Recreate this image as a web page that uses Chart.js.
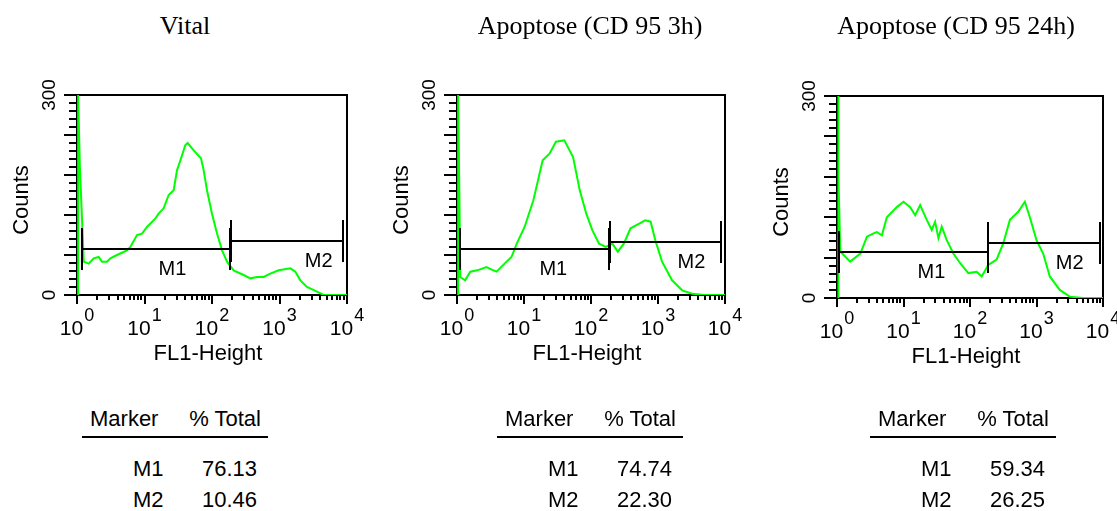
<!DOCTYPE html>
<html>
<head>
<meta charset="utf-8">
<script src="https://cdn.jsdelivr.net/npm/chart.js@4.4.0/dist/chart.umd.min.js"></script>
<style>
  body { margin: 0; background: #fff; }
  #wrap { position: relative; width: 1117px; height: 511px; overflow: hidden; }
  #wrap canvas { position: absolute; left: 0; top: 0; }
  .title { position: absolute; font: 26px 'Liberation Serif', 'Times New Roman', serif; line-height: 26px; white-space: nowrap; transform: translateX(-50%); color: #000; }
  .tbl { position: absolute; font: 22px 'Liberation Sans', Arial, sans-serif; line-height: 22px; white-space: nowrap; color: #000; }
  .rule { position: absolute; height: 2px; background: #000; }
</style>
</head>
<body>
<div id="wrap"></div>
<script>
// histogram data, FL1 channel (log scale) vs counts
const fl1Vital = [1.04, 1.04, 1.1, 1.26, 1.49, 1.77, 2.09, 2.35, 2.78, 3.12, 3.91, 5.5, 6.17, 7.74, 9.18, 10.9, 14.5, 16.2, 19.2, 22.8, 27, 30.3, 34, 40.3, 43.6, 53.5, 68.7, 75.3, 84.3, 100, 119, 141, 167, 209, 294, 370, 464, 583, 731, 972, 1445, 1718, 2036, 2553, 3594, 4511, 10000];
const countsVital = [0, 300, 195, 50, 47, 55, 57, 50, 50, 55, 60, 67, 72, 90, 92, 102, 115, 122, 130, 150, 157, 187, 202, 225, 228, 217, 205, 187, 157, 122, 92, 67, 50, 37, 30, 25, 27, 27, 32, 37, 40, 35, 22, 12, 5, 0, 0];

const fl1Apo3h = [1.04, 1.04, 1.08, 1.12, 1.32, 1.58, 2.0, 2.75, 3.3, 3.9, 5.5, 6.5, 7.8, 10.2, 13.8, 19, 24, 30, 40, 54, 68, 85, 105, 132, 166, 209, 251, 309, 389, 525, 646, 776, 912, 1148, 1622, 2291, 3236, 5012, 10000];
const countsApo3h = [0, 300, 165, 27, 22, 35, 37, 42, 38, 35, 50, 57, 77, 102, 142, 202, 212, 230, 232, 207, 157, 122, 97, 77, 72, 77, 65, 77, 100, 107, 112, 110, 82, 50, 22, 7, 2, 0, 0];

const fl1Apo24h = [1.04, 1.04, 1.06, 1.12, 1.58, 2.24, 2.82, 3.55, 3.98, 4.73, 5.62, 7.94, 10, 12.6, 15, 17.8, 22.4, 26.6, 29.9, 33.5, 37.6, 44.7, 56.2, 70.8, 94.4, 126, 150, 188, 251, 316, 398, 531, 668, 794, 1000, 1259, 1585, 2239, 3162, 5012, 10000];
const countsApo24h = [0, 300, 180, 69, 54, 66, 91, 96, 98, 93, 120, 135, 143, 135, 123, 138, 116, 101, 113, 89, 106, 86, 66, 52, 37, 39, 32, 49, 57, 81, 116, 128, 143, 120, 86, 66, 32, 12, 2, 0, 0];

const panelTitles = ['Vital', 'Apoptose (CD 95 3h)', 'Apoptose (CD 95 24h)'];

// gates: FL1 range and drawing level (counts)
const m1From = [1.19, 1.12, 1.08];
const m1To = [187, 188, 188];
const m1Level = [68.5, 69, 69];
const m2From = [193, 194, 188];
const m2To = [8750, 8810, 8900];
const m2Level = [81, 79, 81];

const m1Total = [76.13, 74.74, 59.34];
const m2Total = [10.46, 22.30, 26.25];

const yTickLabels = [0, 300];
const xDecades = [0, 1, 2, 3, 4];

const W = 1117, H = 511;
const SANS = '"Liberation Sans", Arial, sans-serif';

const panels = [
  { fl1: fl1Vital, counts: countsVital, box: [77, 95, 347, 295], titleX: 185, tableLeft: 82, m1Label: 26, m2Label: 3800 },
  { fl1: fl1Apo3h, counts: countsApo3h, box: [457, 95, 725, 295], titleX: 590, tableLeft: 497, m1Label: 27.4, m2Label: 3160 },
  { fl1: fl1Apo24h, counts: countsApo24h, box: [837, 96, 1103, 298], titleX: 956, tableLeft: 870, m1Label: 26.3, m2Label: 3160 }
];

// axes, frame, gates drawn from the chart's own scales
const panelDecor = {
  id: 'panelDecor',
  beforeDatasetsDraw(chart) {
    const { ctx, chartArea: a } = chart;
    ctx.save();
    ctx.strokeStyle = '#000';
    ctx.lineWidth = 2;
    ctx.strokeRect(a.left, a.top, a.right - a.left, a.bottom - a.top);
    ctx.restore();
  },
  afterDatasetsDraw(chart, args, o) {
    const { ctx, chartArea: a, scales: { x, y } } = chart;
    ctx.save();
    ctx.strokeStyle = '#000';
    ctx.fillStyle = '#000';
    ctx.lineWidth = 2;

    // y ticks
    for (let v = 0; v <= 300; v += 12) {
      const py = Math.round(y.getPixelForValue(v));
      const len = v % 60 === 0 ? 13 : 8;
      ctx.beginPath(); ctx.moveTo(a.left - len, py); ctx.lineTo(a.left, py); ctx.stroke();
    }
    // x ticks
    for (let d = 0; d < 4; d++) {
      for (let m = 1; m <= 9; m++) {
        const px = Math.round(x.getPixelForValue(m * Math.pow(10, d)));
        const len = m === 1 ? 9 : 5;
        ctx.beginPath(); ctx.moveTo(px, a.bottom); ctx.lineTo(px, a.bottom + len); ctx.stroke();
      }
    }
    const pEnd = Math.round(x.getPixelForValue(10000));
    ctx.beginPath(); ctx.moveTo(pEnd, a.bottom); ctx.lineTo(pEnd, a.bottom + 9); ctx.stroke();

    // y tick labels
    ctx.font = '19px ' + SANS;
    ctx.textAlign = 'center';
    ctx.textBaseline = 'alphabetic';
    yTickLabels.forEach(v => {
      ctx.save();
      ctx.translate(a.left - 22, y.getPixelForValue(v));
      ctx.rotate(-Math.PI / 2);
      ctx.fillText(String(v), 0, 0);
      ctx.restore();
    });
    // y title
    ctx.font = '22px ' + SANS;
    ctx.save();
    ctx.translate(a.left - 49, (a.top + a.bottom) / 2 + 5);
    ctx.rotate(-Math.PI / 2);
    ctx.fillText('Counts', 0, 0);
    ctx.restore();

    // x tick labels 10^n
    ctx.textAlign = 'left';
    xDecades.forEach(d => {
      const px = x.getPixelForValue(Math.pow(10, d));
      ctx.font = '21px ' + SANS;
      const wb = ctx.measureText('10').width;
      ctx.font = '18px ' + SANS;
      const ws = ctx.measureText(String(d)).width;
      const start = px - (wb + 1 + ws) / 2;
      ctx.font = '21px ' + SANS;
      ctx.fillText('10', start, a.bottom + 40);
      ctx.font = '18px ' + SANS;
      ctx.fillText(String(d), start + wb + 1, a.bottom + 26);
    });
    // x title
    ctx.textAlign = 'center';
    ctx.font = '22px ' + SANS;
    ctx.fillText('FL1-Height', (a.left + a.right) / 2 - 4, a.bottom + 65);

    // gates
    ctx.font = '20px ' + SANS;
    o.markers.forEach(m => {
      const x0 = Math.round(x.getPixelForValue(m.from));
      const x1 = Math.round(x.getPixelForValue(m.to));
      const py = Math.round(y.getPixelForValue(m.level));
      ctx.beginPath();
      ctx.moveTo(x0, py); ctx.lineTo(x1, py);
      ctx.moveTo(x0, py - 21); ctx.lineTo(x0, py + 21);
      ctx.moveTo(x1, py - 21); ctx.lineTo(x1, py + 21);
      ctx.stroke();
      ctx.fillText(m.name, x.getPixelForValue(m.labelAt), py + 26);
    });
    ctx.restore();
  }
};

const wrap = document.getElementById('wrap');

function addDiv(cls, text, left, top, width, align) {
  const el = document.createElement('div');
  el.className = cls;
  el.textContent = text;
  el.style.left = left + 'px';
  el.style.top = top + 'px';
  if (width) { el.style.width = width + 'px'; el.style.textAlign = align; }
  wrap.appendChild(el);
  return el;
}

panels.forEach((p, i) => {
  // title
  addDiv('title', panelTitles[i], p.titleX, 13);

  // stats table
  const L = p.tableLeft;
  const top = b => b - 18.6;
  addDiv('tbl', 'Marker', L + 8, top(427));
  addDiv('tbl', '% Total', L + 79, top(427), 100, 'right');
  const rule = addDiv('rule', '', L, 436);
  rule.style.width = '186px';
  addDiv('tbl', 'M1', L + 51, top(477));
  addDiv('tbl', m1Total[i].toFixed(2), L + 75, top(477), 100, 'right');
  addDiv('tbl', 'M2', L + 51, top(508));
  addDiv('tbl', m2Total[i].toFixed(2), L + 75, top(508), 100, 'right');

  // histogram
  const canvas = document.createElement('canvas');
  canvas.width = W;
  canvas.height = H;
  wrap.appendChild(canvas);

  const [bl, bt, br, bb] = p.box;
  new Chart(canvas, {
    type: 'line',
    data: {
      datasets: [{
        data: p.fl1.map((v, k) => ({ x: v, y: p.counts[k] })),
        borderColor: '#00ff00',
        borderWidth: 2,
        pointRadius: 0,
        tension: 0,
        fill: false
      }]
    },
    options: {
      responsive: false,
      animation: false,
      events: [],
      layout: { padding: { left: bl, top: bt, right: W - br, bottom: H - bb } },
      plugins: {
        legend: { display: false },
        tooltip: { enabled: false },
        panelDecor: {
          markers: [
            { name: 'M1', from: m1From[i], to: m1To[i], level: m1Level[i], labelAt: p.m1Label },
            { name: 'M2', from: m2From[i], to: m2To[i], level: m2Level[i], labelAt: p.m2Label }
          ]
        }
      },
      scales: {
        x: { type: 'logarithmic', min: 1, max: 10000, display: false },
        y: { min: 0, max: 300, display: false }
      }
    },
    plugins: [panelDecor]
  });
});
</script>
</body>
</html>
